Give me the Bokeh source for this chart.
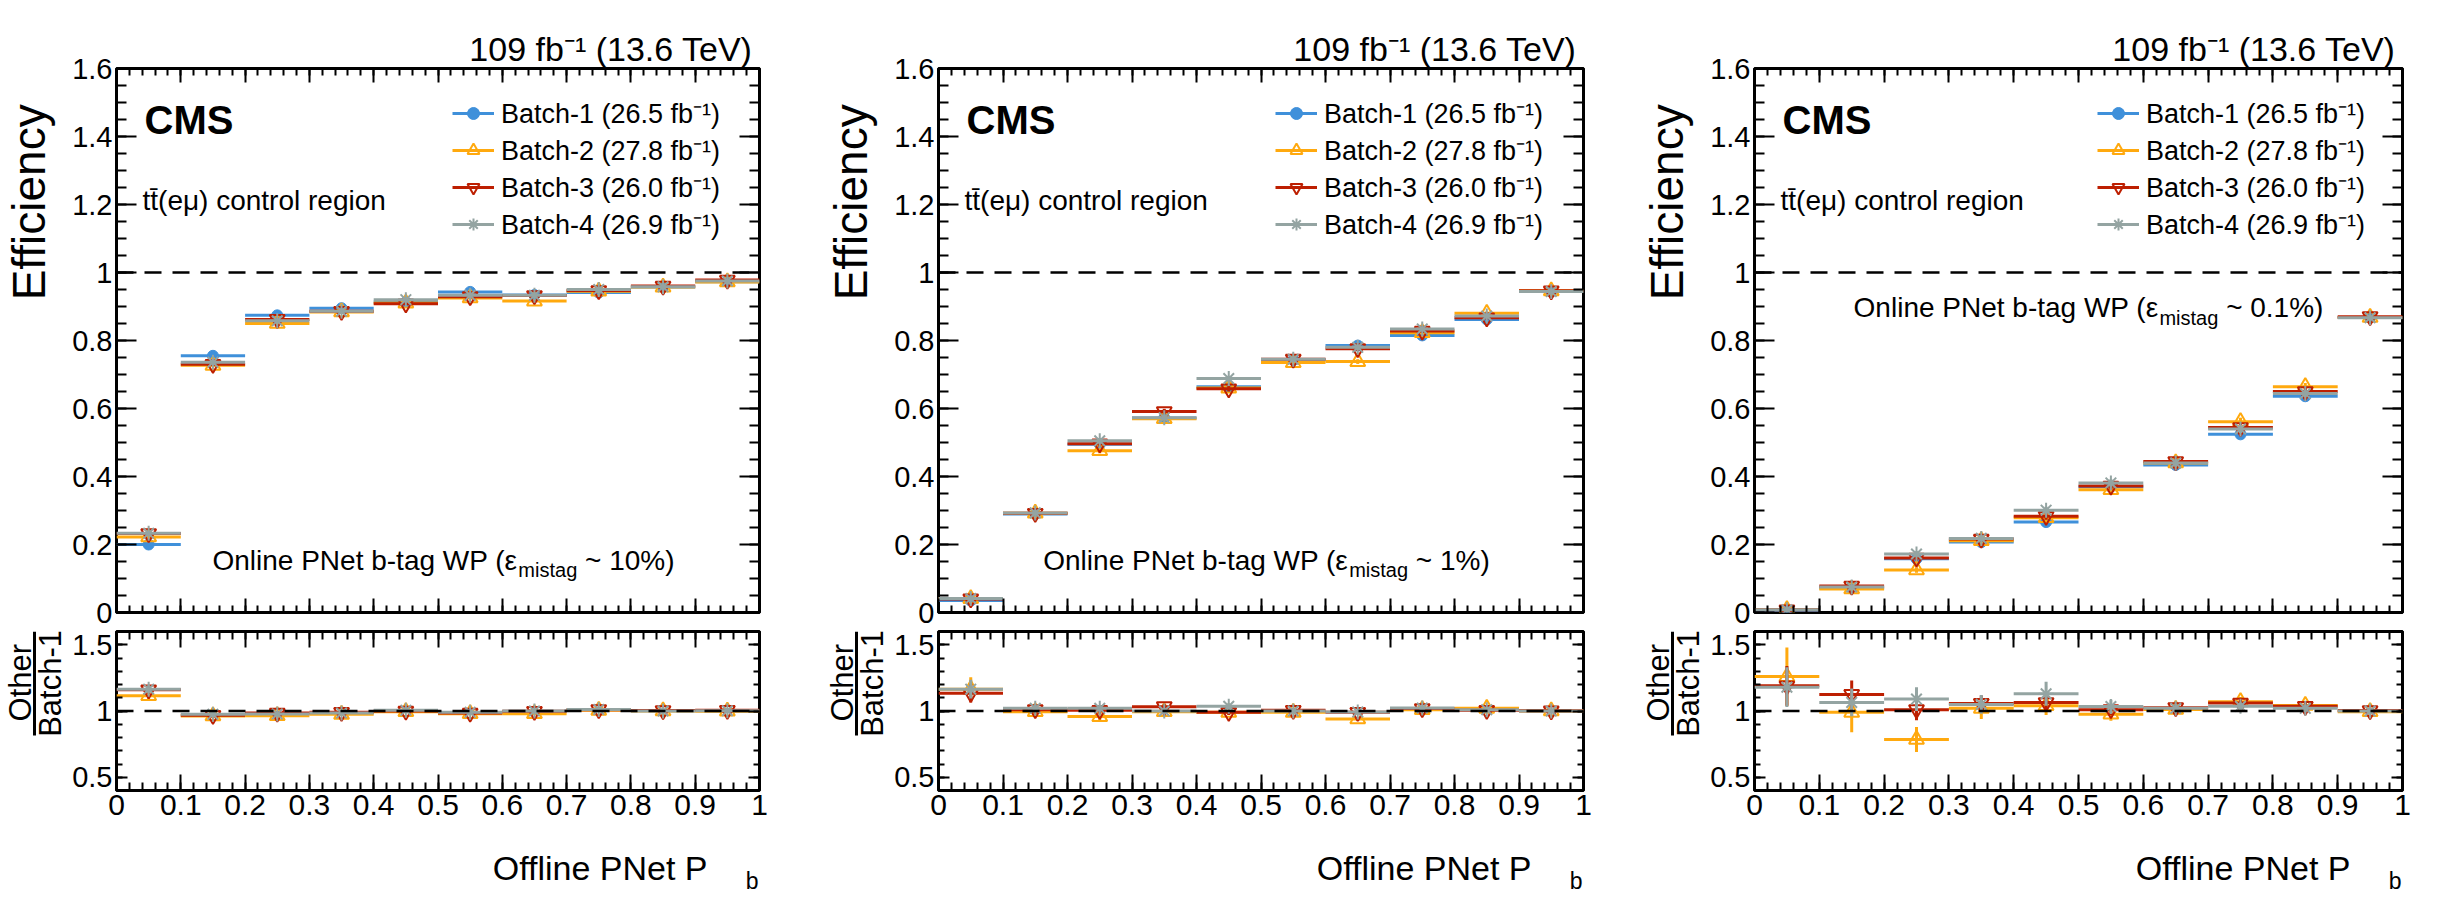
import math
from bokeh.plotting import figure
from bokeh.layouts import row, column
from bokeh.models import (Range1d, LinearAxis, FixedTicker, NumeralTickFormatter,
                          CustomJSTickFormatter, Span, Label, Legend, LegendItem,
                          ColumnDataSource, Arrow, Title)
from bokeh.core.properties import value
from bokeh.embed import file_html
from bokeh.resources import INLINE

FONT = "Liberation Sans"

# ------------------------------------------------------------------ data
bin_edges = [0.0, 0.1, 0.2, 0.3, 0.4, 0.5, 0.6, 0.7, 0.8, 0.9, 1.0]

batch_labels = ["Batch-1 (26.5 fb\u207b\u00b9)", "Batch-2 (27.8 fb\u207b\u00b9)",
                "Batch-3 (26.0 fb\u207b\u00b9)", "Batch-4 (26.9 fb\u207b\u00b9)"]
batch_colors = ["#3f90da", "#ffa90e", "#bd1f01", "#94a4a2"]
batch_markers = ["circle", "triangle", "inverted_triangle", "asterisk"]

wp_mistag = ["10%", "1%", "0.1%"]

# efficiency, online WP with 10% mistag
eff_wp10_batch1 = [0.200, 0.755, 0.874, 0.895, 0.913, 0.943, 0.934, 0.941, 0.957, 0.973]
eff_wp10_batch2 = [0.222, 0.727, 0.850, 0.884, 0.910, 0.925, 0.916, 0.945, 0.957, 0.972]
eff_wp10_batch3 = [0.232, 0.730, 0.862, 0.886, 0.908, 0.929, 0.932, 0.947, 0.960, 0.978]
eff_wp10_batch4 = [0.233, 0.736, 0.858, 0.886, 0.920, 0.933, 0.933, 0.950, 0.958, 0.975]
err_wp10 = [0.006, 0.006, 0.005, 0.004, 0.004, 0.003, 0.003, 0.003, 0.003, 0.002]
ratio_wp10_batch2 = [1.115, 0.963, 0.965, 0.975, 0.995, 0.980, 0.980, 1.005, 1.000, 0.998]
ratio_wp10_batch3 = [1.160, 0.968, 0.985, 0.990, 1.000, 0.985, 0.998, 1.010, 1.003, 1.005]
ratio_wp10_batch4 = [1.165, 0.975, 0.978, 0.985, 1.005, 0.990, 1.000, 1.012, 1.000, 1.002]
ratio_err_wp10_batch2 = [0.035, 0.020, 0.015, 0.012, 0.010, 0.010, 0.010, 0.008, 0.007, 0.006]
ratio_err_wp10_batch3 = [0.030, 0.020, 0.015, 0.012, 0.010, 0.010, 0.010, 0.008, 0.007, 0.006]
ratio_err_wp10_batch4 = [0.030, 0.020, 0.015, 0.012, 0.010, 0.010, 0.010, 0.008, 0.007, 0.006]

# efficiency, online WP with 1% mistag
eff_wp1_batch1 = [0.035, 0.290, 0.495, 0.572, 0.664, 0.743, 0.785, 0.815, 0.862, 0.944]
eff_wp1_batch2 = [0.041, 0.292, 0.476, 0.570, 0.660, 0.735, 0.738, 0.823, 0.880, 0.946]
eff_wp1_batch3 = [0.040, 0.292, 0.496, 0.591, 0.658, 0.745, 0.776, 0.828, 0.867, 0.946]
eff_wp1_batch4 = [0.041, 0.293, 0.505, 0.573, 0.688, 0.745, 0.780, 0.834, 0.872, 0.944]
err_wp1 = [0.003, 0.007, 0.008, 0.008, 0.008, 0.007, 0.007, 0.006, 0.005, 0.003]
ratio_wp1_batch2 = [1.165, 0.995, 0.958, 0.995, 0.990, 0.990, 0.940, 1.010, 1.020, 1.000]
ratio_wp1_batch3 = [1.134, 1.010, 1.005, 1.033, 0.990, 1.005, 0.990, 1.018, 1.005, 1.002]
ratio_wp1_batch4 = [1.165, 1.020, 1.020, 1.000, 1.036, 1.000, 0.993, 1.022, 1.010, 1.000]
ratio_err_wp1_batch2 = [0.090, 0.030, 0.025, 0.020, 0.020, 0.015, 0.015, 0.012, 0.010, 0.006]
ratio_err_wp1_batch3 = [0.070, 0.030, 0.025, 0.020, 0.020, 0.015, 0.015, 0.012, 0.010, 0.006]
ratio_err_wp1_batch4 = [0.070, 0.030, 0.025, 0.020, 0.020, 0.015, 0.015, 0.012, 0.010, 0.006]

# efficiency, online WP with 0.1% mistag
eff_wp01_batch1 = [0.0068, 0.072, 0.158, 0.207, 0.266, 0.370, 0.434, 0.524, 0.636, 0.868]
eff_wp01_batch2 = [0.0085, 0.069, 0.125, 0.211, 0.279, 0.361, 0.440, 0.561, 0.664, 0.868]
eff_wp01_batch3 = [0.0081, 0.078, 0.160, 0.216, 0.283, 0.372, 0.444, 0.544, 0.650, 0.870]
eff_wp01_batch4 = [0.0080, 0.075, 0.172, 0.218, 0.301, 0.381, 0.440, 0.540, 0.644, 0.867]
err_wp01 = [0.001, 0.005, 0.008, 0.009, 0.010, 0.011, 0.011, 0.012, 0.011, 0.006]
ratio_wp01_batch2 = [1.260, 0.990, 0.785, 1.020, 1.040, 0.976, 1.012, 1.070, 1.042, 0.995]
ratio_wp01_batch3 = [1.190, 1.125, 1.010, 1.057, 1.064, 1.010, 1.025, 1.060, 1.035, 1.003]
ratio_wp01_batch4 = [1.180, 1.065, 1.090, 1.050, 1.130, 1.034, 1.020, 1.035, 1.020, 1.000]
ratio_err_wp01_batch2 = [0.220, 0.150, 0.094, 0.080, 0.070, 0.050, 0.040, 0.035, 0.030, 0.020]
ratio_err_wp01_batch3 = [0.150, 0.105, 0.080, 0.060, 0.060, 0.040, 0.035, 0.030, 0.030, 0.020]
ratio_err_wp01_batch4 = [0.150, 0.105, 0.090, 0.070, 0.090, 0.050, 0.035, 0.030, 0.030, 0.020]

# axis ticks and labels
x_ticks = [0.0, 0.1, 0.2, 0.3, 0.4, 0.5, 0.6, 0.7, 0.8, 0.9, 1.0]
eff_ticks = [0.0, 0.2, 0.4, 0.6, 0.8, 1.0, 1.2, 1.4, 1.6]
ratio_ticks = [0.5, 1.0, 1.5]
eff_range = (0.0, 1.6)
ratio_range = (0.4, 1.6)

x_title = "Offline PNet P"
x_title_sub = "b"
y_title = "Efficiency"
ratio_title_num = "Other"
ratio_title_den = "Batch-1"
lumi_text = "109 fb\u207b\u00b9 (13.6 TeV)"
cms_text = "CMS"
region_text = "tt\u0304(e\u03bc) control region"

panels = [
    dict(eff=[eff_wp10_batch1, eff_wp10_batch2, eff_wp10_batch3, eff_wp10_batch4], err=err_wp10,
         ratio=[ratio_wp10_batch2, ratio_wp10_batch3, ratio_wp10_batch4],
         rerr=[ratio_err_wp10_batch2, ratio_err_wp10_batch3, ratio_err_wp10_batch4],
         mistag=wp_mistag[0]),
    dict(eff=[eff_wp1_batch1, eff_wp1_batch2, eff_wp1_batch3, eff_wp1_batch4], err=err_wp1,
         ratio=[ratio_wp1_batch2, ratio_wp1_batch3, ratio_wp1_batch4],
         rerr=[ratio_err_wp1_batch2, ratio_err_wp1_batch3, ratio_err_wp1_batch4],
         mistag=wp_mistag[1]),
    dict(eff=[eff_wp01_batch1, eff_wp01_batch2, eff_wp01_batch3, eff_wp01_batch4], err=err_wp01,
         ratio=[ratio_wp01_batch2, ratio_wp01_batch3, ratio_wp01_batch4],
         rerr=[ratio_err_wp01_batch2, ratio_err_wp01_batch3, ratio_err_wp01_batch4],
         mistag=wp_mistag[2]),
]

# ------------------------------------------------------------------ layout (pixels)
col_width = [822, 816, 796]
frame_w = [645, 647, 650]
TW = 69            # width of the strip that carries the rotated y titles
AX_L = 45          # left border of the plot figures (tick labels)
MAIN_H, MAIN_TOP, MAIN_BOT = 630, 68, 18
RATIO_H, RATIO_TOP, RATIO_BOT = 202, 1, 42
XT_H = 61
PX_MAIN = (MAIN_H - MAIN_TOP - MAIN_BOT) / (eff_range[1] - eff_range[0])
wp_text_center = [327, 328, 334]
wp_text_y = [0.153, 0.153, 0.897]
legend_x = [336, 337, 343]

# Arial / Liberation Sans advance widths (1/1000 em)
_W = {c: 556 for c in "0123456789"}
_W.update({' ': 278, '(': 333, ')': 333, '-': 333, '.': 278, '%': 889, '~': 584,
           '\u03b5': 440, '\u03bc': 577,
           'A': 667, 'B': 667, 'C': 722, 'D': 722, 'E': 667, 'F': 611, 'G': 778, 'H': 722,
           'I': 278, 'J': 500, 'K': 667, 'L': 556, 'M': 833, 'N': 722, 'O': 778, 'P': 667,
           'Q': 778, 'R': 722, 'S': 667, 'T': 611, 'U': 722, 'V': 667, 'W': 944, 'X': 667,
           'Y': 667, 'Z': 611, 'a': 556, 'b': 556, 'c': 500, 'd': 556, 'e': 556, 'f': 278,
           'g': 556, 'h': 556, 'i': 222, 'j': 222, 'k': 500, 'l': 222, 'm': 833, 'n': 556,
           'o': 556, 'p': 556, 'q': 556, 'r': 333, 's': 500, 't': 278, 'u': 556, 'v': 500,
           'w': 722, 'x': 500, 'y': 500, 'z': 500})


def text_px(s, size):
    return sum(_W.get(c, 556) for c in s) * size / 1000.0


def lbl(p, x, y, text, size, x_offset=0, align="left", baseline="alphabetic",
        angle=0.0, style="normal"):
    p.add_layout(Label(x=x, y=y, x_units="data", y_units="data", text=text,
                       x_offset=x_offset, text_font=FONT, text_font_size=f"{size}px",
                       text_font_style=style, text_color="black", text_align=align,
                       text_baseline=baseline, angle=angle))


def minor_list(lo, hi, step):
    n = int(round((hi - lo) / step))
    return [round(lo + i * step, 6) for i in range(n + 1)]


def style_axis(ax, tin, tmin, show, size, standoff):
    ax.axis_line_color = None
    ax.major_tick_in = tin
    ax.major_tick_out = 0
    ax.minor_tick_in = tmin
    ax.minor_tick_out = 0
    ax.major_tick_line_color = "black"
    ax.minor_tick_line_color = "black"
    ax.major_tick_line_width = 2
    ax.minor_tick_line_width = 2
    if show:
        ax.major_label_text_font = FONT
        ax.major_label_text_font_size = f"{size}px"
        ax.major_label_text_color = "black"
        ax.major_label_standoff = standoff
    else:
        ax.formatter = CustomJSTickFormatter(code="return ''")
        ax.major_label_text_font_size = "1px"
        ax.major_label_text_color = None
        ax.major_label_standoff = 0


def add_axes(p, yt, ymin, xin, xmn, yin, ymn, show_x, ysize):
    for side in ("below", "above"):
        ax = LinearAxis(ticker=FixedTicker(ticks=x_ticks, minor_ticks=minor_list(0, 1, 0.02)),
                        formatter=NumeralTickFormatter(format="0.[0]"))
        style_axis(ax, xin, xmn, show_x and side == "below", 30, 4)
        p.add_layout(ax, side)
    for side in ("left", "right"):
        ax = LinearAxis(ticker=FixedTicker(ticks=yt, minor_ticks=ymin),
                        formatter=NumeralTickFormatter(format="0.[0]"))
        style_axis(ax, yin, ymn, side == "left", ysize, 4)
        p.add_layout(ax, side)


def new_fig(w, left, right, h, top, bottom, yr):
    return figure(width=w, height=h, x_range=Range1d(0, 1), y_range=Range1d(*yr),
                  x_axis_type=None, y_axis_type=None, output_backend="svg",
                  toolbar_location=None, min_border_left=left, min_border_right=right,
                  min_border_top=top, min_border_bottom=bottom,
                  background_fill_color="white", border_fill_color="white",
                  outline_line_color="black", outline_line_width=3)


def text_strip(w, h):
    # a bare figure whose frame is the whole canvas; data units are pixels from bottom-left
    return figure(width=w, height=h, x_range=Range1d(0, w), y_range=Range1d(0, h),
                  x_axis_type=None, y_axis_type=None, output_backend="svg",
                  toolbar_location=None, min_border_left=0, min_border_right=0,
                  min_border_top=0, min_border_bottom=0, outline_line_color=None,
                  background_fill_color="white", border_fill_color="white")


def draw_series(p, vals, errs, color, marker):
    lo = bin_edges[:-1]
    hi = bin_edges[1:]
    xc = [(a + b) / 2 for a, b in zip(lo, hi)]
    src = ColumnDataSource(dict(lo=lo, hi=hi, xc=xc, y=vals,
                                ylo=[v - e for v, e in zip(vals, errs)],
                                yhi=[v + e for v, e in zip(vals, errs)]))
    rh = p.segment(x0="lo", y0="y", x1="hi", y1="y", source=src, line_color=color, line_width=3)
    p.segment(x0="xc", y0="ylo", x1="xc", y1="yhi", source=src, line_color=color, line_width=3)
    if marker == "circle":
        rm = p.scatter(x="xc", y="y", source=src, marker="circle", size=11,
                       fill_color=color, line_color=color, line_width=1)
    else:
        rm = p.scatter(x="xc", y="y", source=src, marker=marker, size=15,
                       fill_color=None, line_color=color, line_width=2)
    return rh, rm


columns = []
for k, pan in enumerate(panels):
    W, FW = col_width[k], frame_w[k]
    MW = W - TW
    R = MW - AX_L - FW

    # ---------------- y title strip of the main panel (strip x = page x - column start)
    et = text_strip(TW, MAIN_H)
    lbl(et, 28, 475, y_title, 46, align="center", baseline="middle", angle=math.pi / 2)

    # ---------------- main panel
    p = new_fig(MW, AX_L, R, MAIN_H, MAIN_TOP, MAIN_BOT, eff_range)
    add_axes(p, eff_ticks, minor_list(0, 1.6, 0.05), 14, 7, 20, 10, False, 29)
    p.add_layout(Span(location=1.0, dimension="width", line_color="black",
                      line_width=2.5, line_dash="17 11"))
    items = []
    for b in range(4):
        rh, rm = draw_series(p, pan["eff"][b], pan["err"], batch_colors[b], batch_markers[b])
        items.append(LegendItem(label=value(batch_labels[b]), renderers=[rh, rm]))
    leg = Legend(items=items, location=(legend_x[k], 370), glyph_width=42, glyph_height=30,
                 label_height=30, label_standoff=7, spacing=0, padding=0, margin=0,
                 border_line_alpha=0, background_fill_alpha=0,
                 label_text_font=FONT, label_text_font_size="27px", label_text_color="black")
    p.add_layout(leg)
    p.add_layout(Title(text=lumi_text, align="right", offset=7, standoff=2,
                       vertical_align="bottom", text_font=FONT, text_font_size="34px",
                       text_font_style="normal", text_color="black"), "above")

    lbl(p, 0.0, 1.45, cms_text, 40, x_offset=28, style="bold")
    lbl(p, 0.0, 1.212, region_text, 28, x_offset=26)

    part1 = "Online PNet b-tag WP (\u03b5"
    part2 = "mistag"
    part3 = f"~ {pan['mistag']})"
    gap = text_px(" ", 28)
    w1, w2, w3 = text_px(part1, 28), text_px(part2, 20), text_px(part3, 28)
    total = w1 + 1 + w2 + gap + w3
    x0 = wp_text_center[k] - total / 2
    ty = wp_text_y[k]
    lbl(p, 0.0, ty, part1, 28, x_offset=x0)
    lbl(p, 0.0, ty - 10 / PX_MAIN, part2, 20, x_offset=x0 + w1 + 1)
    lbl(p, 0.0, ty, part3, 28, x_offset=x0 + w1 + 1 + w2 + gap)

    # ---------------- y title strip of the ratio panel (strip spans page y 638..840)
    rt = text_strip(TW, RATIO_H)
    lbl(rt, 19.5, RATIO_H - 65, ratio_title_num, 31, align="center", baseline="middle",
        angle=math.pi / 2)
    lbl(rt, 49.5, RATIO_H - 66, ratio_title_den, 31, align="center", baseline="middle",
        angle=math.pi / 2)
    rt.add_layout(Arrow(x_start=34, y_start=RATIO_H, x_end=34, y_end=RATIO_H - 132,
                        end=None, line_width=3, line_color="black"))

    # ---------------- ratio panel
    r = new_fig(MW, AX_L, R, RATIO_H, RATIO_TOP, RATIO_BOT, ratio_range)
    add_axes(r, ratio_ticks, minor_list(0.4, 1.6, 0.1), 16, 8, 11, 6, True, 29)
    for b in range(3):
        draw_series(r, pan["ratio"][b], pan["rerr"][b], batch_colors[b + 1], batch_markers[b + 1])
    r.add_layout(Span(location=1.0, dimension="width", line_color="black",
                      line_width=2.5, line_dash="17 11"))

    # ---------------- x title strip
    xt = text_strip(W, XT_H)
    fr = TW + AX_L + FW     # frame right edge in strip pixels
    lbl(xt, fr - 52, 26, x_title, 34, align="right")
    lbl(xt, fr - 1, 13, x_title_sub, 23, align="right")

    columns.append(column(row(et, p), row(rt, r), xt))

layout = row(*columns)
open("out.html", "w").write(file_html(layout, INLINE))
